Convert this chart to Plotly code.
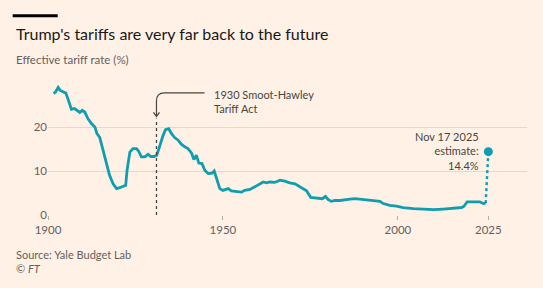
import plotly.graph_objects as go

# ---- data ----
years = [1901.6, 1902.2, 1902.9, 1903.5, 1904.3, 1905.1, 1905.7, 1906.7, 1907.6, 1908.4,
         1909.1, 1909.8, 1910.5, 1911.4, 1912.4, 1913.4, 1914.0, 1914.8, 1915.7, 1916.7,
         1917.6, 1918.6, 1919.6, 1920.5, 1921.6, 1922.2, 1922.6, 1923.0, 1923.4, 1924.3,
         1925.3, 1925.9, 1926.7, 1927.7, 1928.6, 1929.4, 1930.3, 1931.1, 1931.9, 1932.9,
         1933.6, 1934.5, 1935.3, 1936.2, 1937.2, 1938.1, 1939.1, 1940.0, 1941.0, 1941.7,
         1942.4, 1943.1, 1944.0, 1944.8, 1945.8, 1946.9, 1947.5, 1948.2, 1949.1, 1950.0,
         1951.5, 1952.4, 1953.9, 1955.3, 1956.2, 1957.7, 1959.1, 1960.5, 1961.5, 1962.5,
         1963.4, 1964.8, 1966.3, 1967.7, 1969.1, 1970.6, 1972.0, 1973.9, 1975.1, 1976.3,
         1977.7, 1978.4, 1979.3, 1980.1, 1981.0, 1982.0, 1983.4, 1984.8, 1986.3, 1987.7,
         1989.1, 1990.6, 1992.0, 1993.9, 1994.9, 1995.8, 1997.7, 1999.6, 2001.5, 2004.4,
         2007.2, 2010.1, 2013.0, 2015.8, 2018.2, 2018.9, 2019.8, 2021.1, 2022.5, 2023.4,
         2024.4, 2025.1]
rates = [27.6, 28.0, 29.0, 28.3, 28.0, 27.7, 26.4, 24.0, 24.2, 23.6,
         23.3, 23.8, 23.4, 21.9, 20.8, 20.0, 18.5, 17.6, 14.7, 12.0,
         9.0, 7.1, 6.0, 6.2, 6.5, 6.75, 10.2, 12.8, 14.3, 15.1,
         15.1, 14.5, 13.2, 13.2, 13.8, 13.3, 13.3, 13.6, 15.8, 18.1,
         19.4, 19.6, 18.5, 17.6, 17.0, 16.1, 15.5, 15.1, 14.1, 12.6,
         13.6, 11.8, 11.7, 10.2, 9.4, 9.5, 10.0, 8.3, 6.0, 5.6,
         6.0, 5.5, 5.4, 5.2, 5.6, 5.8, 6.4, 7.1, 7.5, 7.3,
         7.5, 7.4, 7.9, 7.7, 7.3, 7.1, 6.4, 5.5, 4.0, 3.9,
         3.9, 3.7, 4.25, 3.5, 3.1, 3.3, 3.3, 3.5, 3.6, 3.7,
         3.6, 3.5, 3.3, 3.3, 3.1, 2.6, 2.2, 2.0, 1.7, 1.45,
         1.3, 1.2, 1.35, 1.5, 1.7, 2.0, 3.0, 3.0, 3.1, 3.0,
         2.6, 2.7]
estimate_year = 2025.85
estimate_rate = 14.4
smoot_hawley_year = 1931.0

x_tickvals = [1900, 1950, 2000, estimate_year]
x_ticktext = ["1900", "1950", "2000", "2025"]
y_tickvals = [0, 10, 20]
y_ticktext = ["0", "10", "20"]
x_range = [1900, 2036.9]
y_range = [0, 30]

# ---- style ----
BG = "#FFF1E5"
TEAL = "#0E9EAF"
GRID = "#E6D8CC"
MUTED = "#66605C"
DARK = "#4A4542"
FONT = "Lato"

FW, FH = 543, 288
L, R, T, B = 48.3, 16, 82.7, 73.3
PW, PH = FW - L - R, FH - T - B

def pxx(x):  # pixel x -> paper x
    return (x - L) / PW

def pxy(y):  # pixel y -> paper y
    return (T + PH - y) / PH

def dx(px):  # pixel width -> years
    return px * (x_range[1] - x_range[0]) / PW

def dy(px):  # pixel height -> rate units
    return px * (y_range[1] - y_range[0]) / PH

fig = go.Figure()

# main line
fig.add_trace(go.Scatter(x=years, y=rates, mode="lines",
                         line=dict(color=TEAL, width=2.8), hoverinfo="skip"))
# dotted jump to estimate
fig.add_trace(go.Scatter(x=[years[-1], estimate_year], y=[rates[-1], estimate_rate],
                         mode="lines", line=dict(color=TEAL, width=2.4, dash="dot"),
                         hoverinfo="skip"))
fig.add_trace(go.Scatter(x=[estimate_year], y=[estimate_rate], mode="markers",
                         marker=dict(color=TEAL, size=9), hoverinfo="skip"))

shapes = []
# Smoot-Hawley dotted vertical
arrow_tip = 22.4
shapes.append(dict(type="line", xref="x", yref="y", x0=smoot_hawley_year, x1=smoot_hawley_year,
                   y0=0, y1=arrow_tip - dy(2), line=dict(color=DARK, width=1.3, dash="dot")))
# curved connector
ty = arrow_tip + dy(23.5)
x_start = smoot_hawley_year + dx(48)
shapes.append(dict(type="path", xref="x", yref="y",
                   path=(f"M {x_start},{ty} L {smoot_hawley_year + dx(8)},{ty} "
                         f"Q {smoot_hawley_year},{ty} {smoot_hawley_year},{ty - dy(8)} "
                         f"L {smoot_hawley_year},{arrow_tip}"),
                   line=dict(color=DARK, width=1.2)))
# arrowhead chevron
shapes.append(dict(type="path", xref="x", yref="y",
                   path=(f"M {smoot_hawley_year - dx(3)},{arrow_tip + dy(4)} "
                         f"L {smoot_hawley_year},{arrow_tip} "
                         f"L {smoot_hawley_year + dx(3)},{arrow_tip + dy(4)}"),
                   line=dict(color=DARK, width=1.2)))
# top black bar
shapes.append(dict(type="rect", xref="paper", yref="paper",
                   x0=pxx(13), x1=pxx(58), y0=pxy(17), y1=pxy(14),
                   fillcolor="#000000", line=dict(width=0)))

annotations = [
    dict(text="Trump's tariffs are very far back to the future", x=pxx(14), y=pxy(33),
         xanchor="left", yanchor="middle", font=dict(size=16, color="#1A1817", family=FONT)),
    dict(text="Effective tariff rate (%)", x=pxx(14.5), y=pxy(59.5),
         xanchor="left", yanchor="middle", font=dict(size=11.5, color=MUTED, family=FONT)),
    dict(text="Source: Yale Budget Lab", x=pxx(14.5), y=pxy(254.5),
         xanchor="left", yanchor="middle", font=dict(size=11, color=MUTED, family=FONT)),
    dict(text="© <i>FT</i>", x=pxx(14.5), y=pxy(268.5),
         xanchor="left", yanchor="middle", font=dict(size=11, color=MUTED, family=FONT)),
    dict(text="1930 Smoot-Hawley<br>Tariff Act", x=pxx(212), y=pxy(100.7),
         xanchor="left", yanchor="middle", align="left",
         font=dict(size=11, color=DARK, family=FONT)),
    dict(text="Nov 17 2025<br>estimate:<br>14.4%", x=pxx(481), y=pxy(150.3),
         xanchor="right", yanchor="middle", align="right",
         font=dict(size=11, color=DARK, family=FONT)),
]
for a in annotations:
    a.update(xref="paper", yref="paper", showarrow=False)

fig.update_layout(
    width=FW, height=FH, margin=dict(l=L, r=R, t=T, b=B, pad=0),
    paper_bgcolor=BG, plot_bgcolor=BG, showlegend=False,
    shapes=shapes, annotations=annotations,
    font=dict(family=FONT, color=MUTED, size=11.5),
    xaxis=dict(range=x_range, tickvals=x_tickvals, ticktext=x_ticktext,
               showgrid=False, zeroline=False, showline=False,
               ticks="outside", ticklen=4, tickcolor="#B8ADA3", tickwidth=1,
               tickfont=dict(size=11.5, color=MUTED)),
    yaxis=dict(range=y_range, tickvals=y_tickvals, ticktext=y_ticktext,
               showgrid=True, gridcolor=GRID, gridwidth=1, zeroline=False,
               showline=False, ticks="", tickfont=dict(size=11.5, color=MUTED)),
)

fig.write_html("out.html")
